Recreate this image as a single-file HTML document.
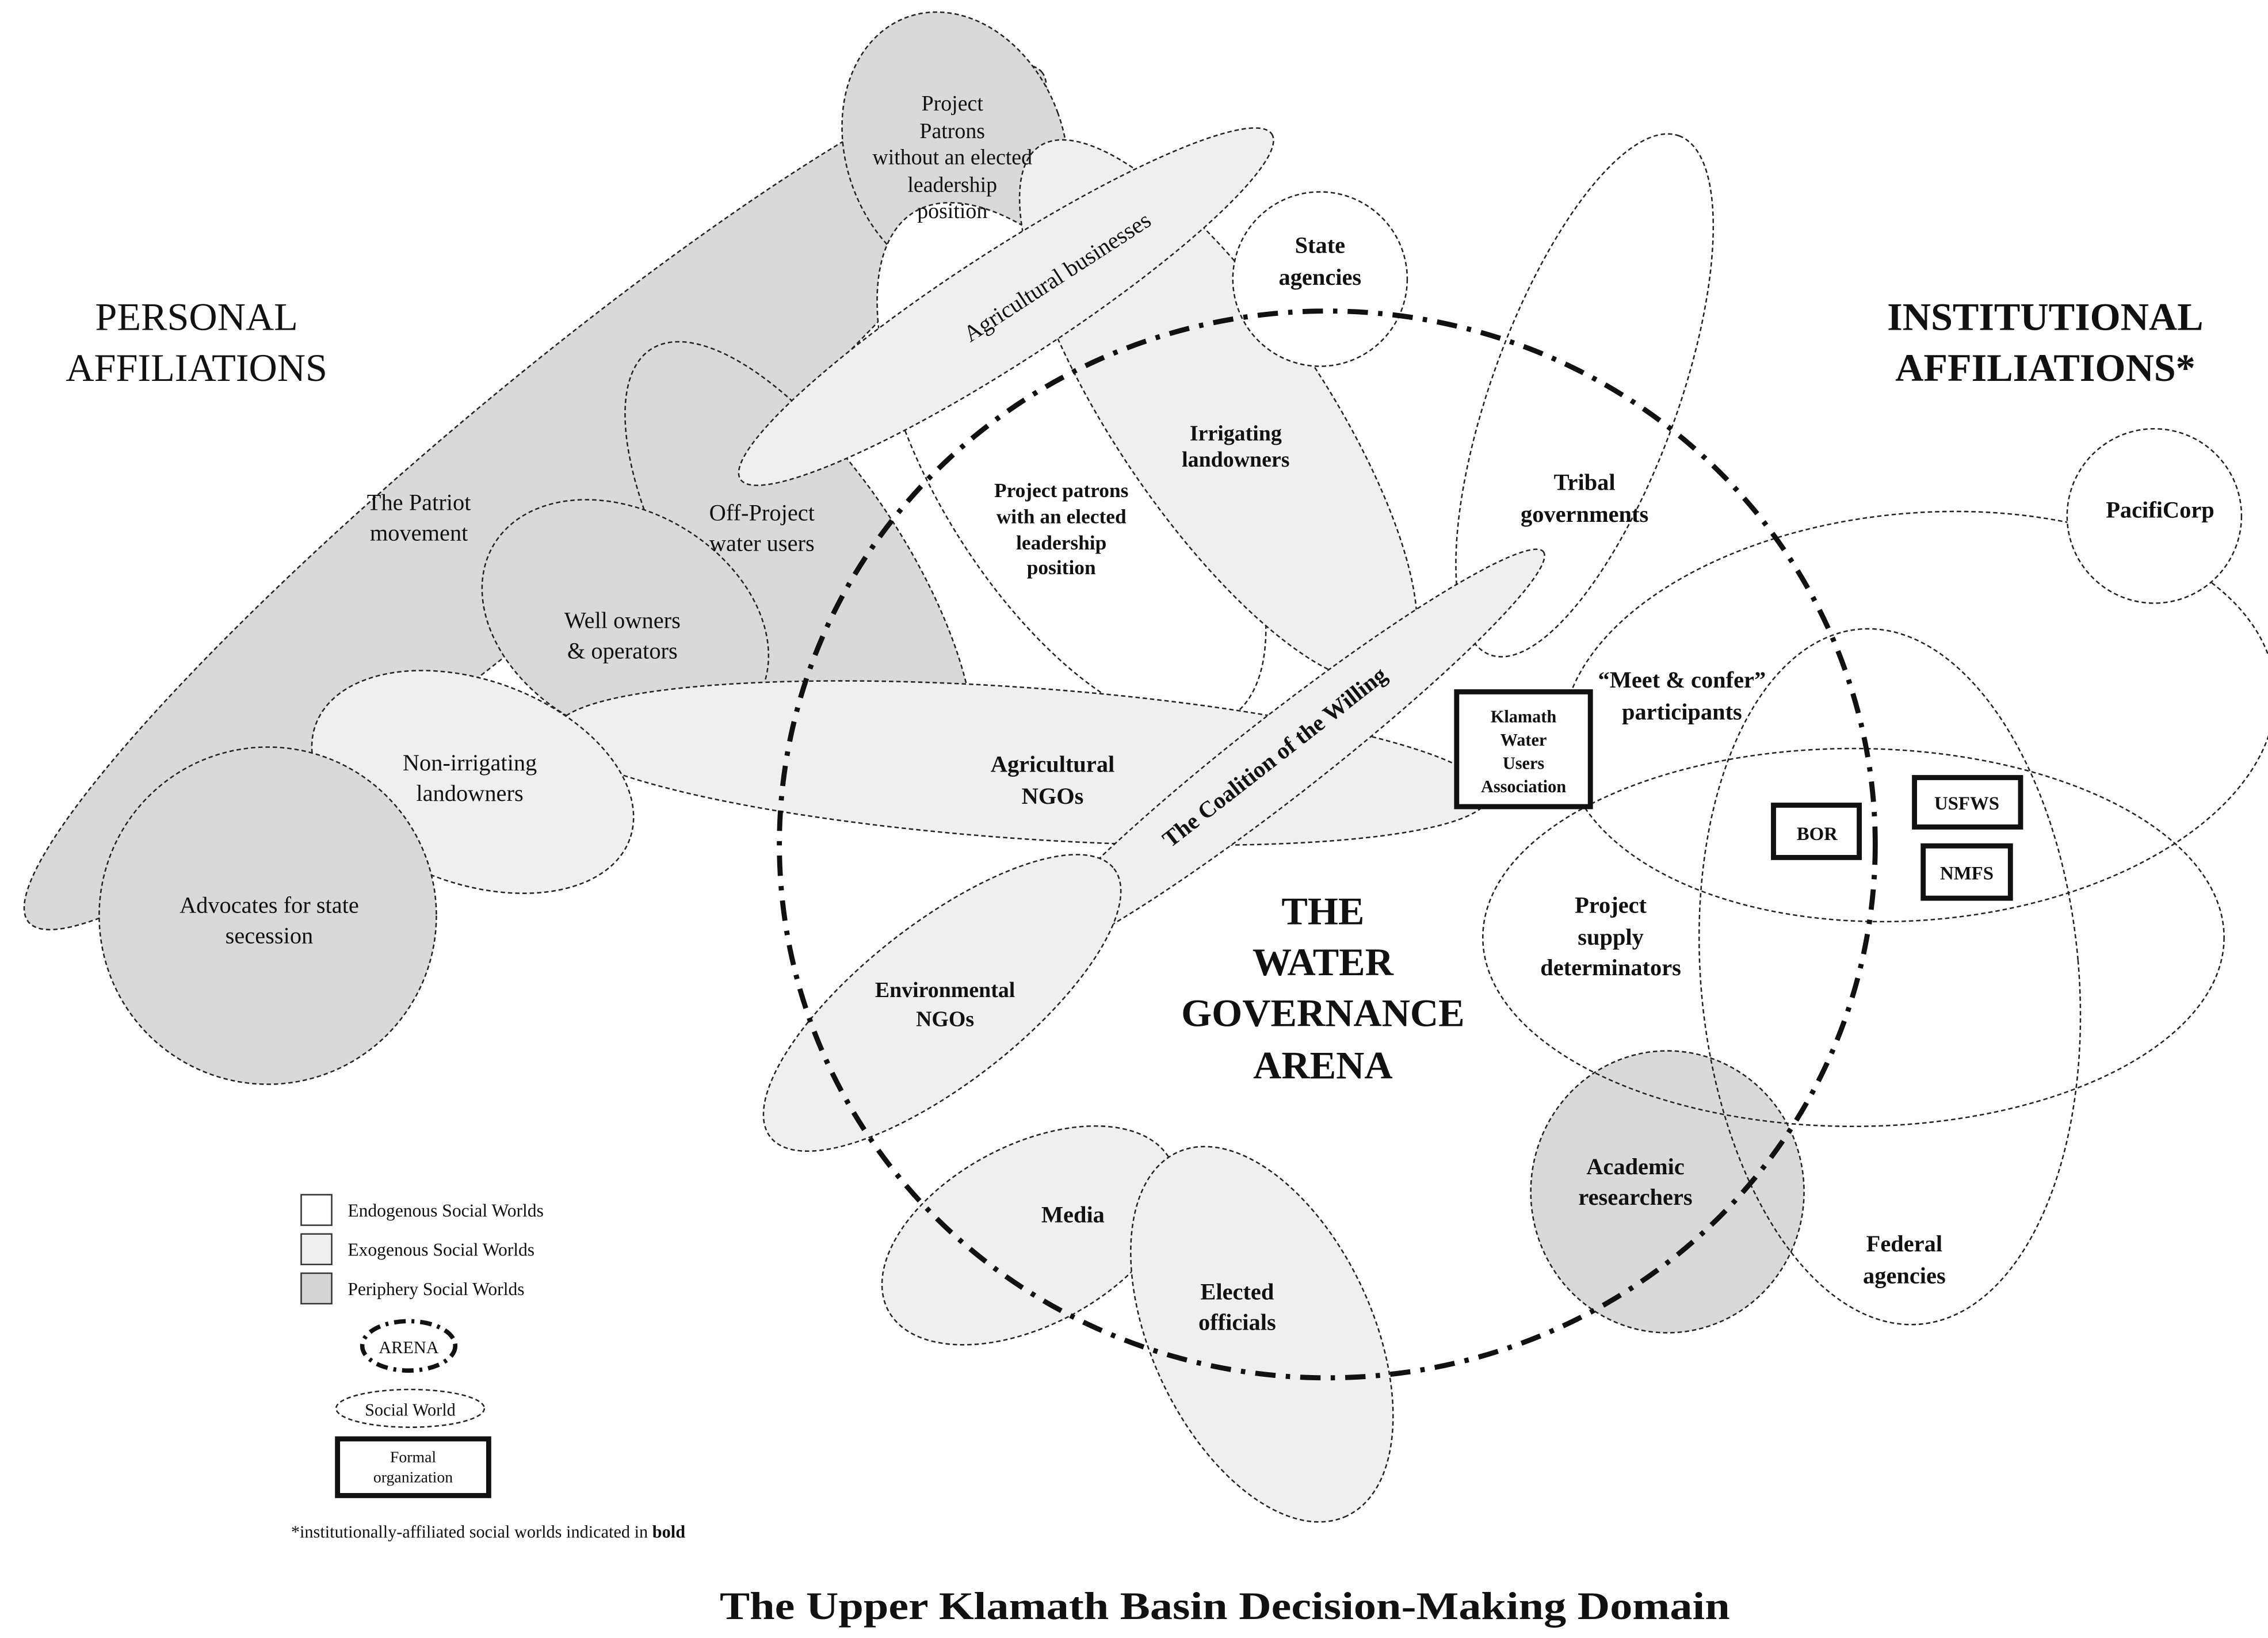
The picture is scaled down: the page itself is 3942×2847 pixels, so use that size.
<!DOCTYPE html>
<html><head><meta charset="utf-8"><style>
html,body{margin:0;padding:0;background:#fff}
svg{display:block}
text{font-family:"Liberation Serif",serif;fill:#111}
.g{fill:#d9d9d9;stroke:#222;stroke-width:1;stroke-dasharray:3 2}
.l{fill:#efefef;stroke:#222;stroke-width:1;stroke-dasharray:3 2}
.w{fill:none;stroke:#222;stroke-width:1;stroke-dasharray:3 2}
.wf{fill:#fff;stroke:#222;stroke-width:1;stroke-dasharray:3 2}
.t{font-size:16px;text-anchor:middle}
.b{font-size:16px;text-anchor:middle;font-weight:bold}
.box{fill:#fff;stroke:#111;stroke-width:3.5}
</style></head><body>
<svg width="3942" height="2847" viewBox="0 0 1560 1127" xmlns="http://www.w3.org/2000/svg">
<rect width="1560" height="1127" fill="#fff"/>
<ellipse class="g" cx="368" cy="342" rx="455" ry="72" transform="rotate(-40 368 342)"/>
<ellipse class="g" cx="657" cy="103" rx="75" ry="97" transform="rotate(-20 657 103)"/>
<ellipse class="wf" cx="737" cy="320" rx="205" ry="92" transform="rotate(58 737 320)"/>
<ellipse class="l" cx="838" cy="283" rx="220" ry="72" transform="rotate(56 838 283)"/>
<ellipse class="g" cx="550" cy="398" rx="188" ry="75" transform="rotate(57 550 398)"/>
<ellipse class="g" cx="430" cy="428" rx="105" ry="76" transform="rotate(30 430 428)"/>
<ellipse class="l" cx="703" cy="525" rx="322" ry="52" transform="rotate(4 703 525)"/>
<ellipse class="l" cx="325" cy="538" rx="115" ry="70" transform="rotate(20 325 538)"/>
<circle class="g" cx="184" cy="630" r="116"/>
<ellipse class="l" cx="692" cy="211" rx="218" ry="38" transform="rotate(-33 692 211)"/>
<circle class="wf" cx="908" cy="192" r="60"/>
<ellipse class="w" cx="1090" cy="272" rx="190" ry="64" transform="rotate(-70 1090 272)"/>
<ellipse class="l" cx="882" cy="520" rx="228" ry="28" transform="rotate(-38 882 520)"/>
<ellipse class="l" cx="648" cy="690" rx="150" ry="55" transform="rotate(-38 648 690)"/>
<ellipse class="l" cx="708" cy="850" rx="110" ry="62" transform="rotate(-28 708 850)"/>
<ellipse class="l" cx="868" cy="918" rx="138" ry="76" transform="rotate(65 868 918)"/>
<ellipse class="g" cx="1147" cy="820" rx="94" ry="97"/>
<ellipse class="w" cx="1320" cy="493" rx="246" ry="140" transform="rotate(-5 1320 493)"/>
<ellipse class="w" cx="1275" cy="645" rx="255" ry="130"/>
<ellipse class="w" cx="1300" cy="672" rx="130" ry="240" transform="rotate(-5 1300 672)"/>
<circle class="wf" cx="1482" cy="355" r="60"/>
<ellipse cx="913" cy="581" rx="377" ry="367" fill="none" stroke="#111" stroke-width="3.5" stroke-dasharray="14 7 3 7"/>
<rect class="box" x="1002" y="476" width="92" height="79"/>
<rect class="box" x="1220" y="554" width="59" height="36"/>
<rect class="box" x="1317" y="535" width="73" height="34"/>
<rect class="box" x="1323" y="582" width="60" height="36"/>
<text class="b" x="1048" y="497" style="font-size:12px">Klamath</text>
<text class="b" x="1048" y="513" style="font-size:12px">Water</text>
<text class="b" x="1048" y="529" style="font-size:12px">Users</text>
<text class="b" x="1048" y="545" style="font-size:12px">Association</text>
<text class="b" x="1250" y="578" style="font-size:13px">BOR</text>
<text class="b" x="1353" y="557" style="font-size:13px">USFWS</text>
<text class="b" x="1353" y="605" style="font-size:13px">NMFS</text>
<text x="135" y="227" style="font-size:27px;text-anchor:middle">PERSONAL</text>
<text x="135" y="262" style="font-size:27px;text-anchor:middle">AFFILIATIONS</text>
<text x="1407" y="227" style="font-size:27px;text-anchor:middle;font-weight:bold">INSTITUTIONAL</text>
<text x="1407" y="262" style="font-size:27px;text-anchor:middle;font-weight:bold">AFFILIATIONS*</text>
<text x="910" y="636" style="font-size:27px;text-anchor:middle;font-weight:bold">THE</text>
<text x="910" y="671" style="font-size:27px;text-anchor:middle;font-weight:bold">WATER</text>
<text x="910" y="706" style="font-size:27px;text-anchor:middle;font-weight:bold">GOVERNANCE</text>
<text x="910" y="742" style="font-size:27px;text-anchor:middle;font-weight:bold">ARENA</text>
<text x="495" y="1114" textLength="695" lengthAdjust="spacingAndGlyphs" style="font-size:27px;font-weight:bold">The Upper Klamath Basin Decision-Making Domain</text>
<text class="t" x="655" y="76" style="font-size:15px">Project</text>
<text class="t" x="655" y="95" style="font-size:15px">Patrons</text>
<text class="t" x="655" y="113" style="font-size:15px">without an elected</text>
<text class="t" x="655" y="132" style="font-size:15px">leadership</text>
<text class="t" x="655" y="150" style="font-size:15px">position</text>
<text class="t" x="730" y="195" style="font-size:16px" transform="rotate(-33 730 195)">Agricultural businesses</text>
<text class="b" x="908" y="174">State</text>
<text class="b" x="908" y="196">agencies</text>
<text class="b" x="850" y="303" style="font-size:15px">Irrigating</text>
<text class="b" x="850" y="321" style="font-size:15px">landowners</text>
<text class="b" x="730" y="342" style="font-size:14px">Project patrons</text>
<text class="b" x="730" y="360" style="font-size:14px">with an elected</text>
<text class="b" x="730" y="378" style="font-size:14px">leadership</text>
<text class="b" x="730" y="395" style="font-size:14px">position</text>
<text class="b" x="1090" y="337">Tribal</text>
<text class="b" x="1090" y="359">governments</text>
<text class="b" x="1486" y="356">PacifiCorp</text>
<text class="t" x="288" y="351">The Patriot</text>
<text class="t" x="288" y="372">movement</text>
<text class="t" x="524" y="358">Off-Project</text>
<text class="t" x="524" y="379">water users</text>
<text class="t" x="428" y="432">Well owners</text>
<text class="t" x="428" y="453">&amp; operators</text>
<text class="t" x="323" y="530">Non-irrigating</text>
<text class="t" x="323" y="551">landowners</text>
<text class="t" x="185" y="628">Advocates for state</text>
<text class="t" x="185" y="649">secession</text>
<text class="b" x="724" y="531">Agricultural</text>
<text class="b" x="724" y="553">NGOs</text>
<text class="b" x="880" y="525" transform="rotate(-38 880 525)">The Coalition of the Willing</text>
<text class="b" x="1157" y="473">“Meet &amp; confer”</text>
<text class="b" x="1157" y="495">participants</text>
<text class="b" x="1108" y="628">Project</text>
<text class="b" x="1108" y="650">supply</text>
<text class="b" x="1108" y="671">determinators</text>
<text class="b" x="650" y="686" style="font-size:15px">Environmental</text>
<text class="b" x="650" y="706" style="font-size:15px">NGOs</text>
<text class="b" x="738" y="841">Media</text>
<text class="b" x="851" y="894">Elected</text>
<text class="b" x="851" y="915">officials</text>
<text class="b" x="1125" y="808">Academic</text>
<text class="b" x="1125" y="829">researchers</text>
<text class="b" x="1310" y="861">Federal</text>
<text class="b" x="1310" y="883">agencies</text>
<rect x="207" y="822" width="21" height="21" fill="#fff" stroke="#333"/>
<rect x="207" y="849" width="21" height="21" fill="#efefef" stroke="#333"/>
<rect x="207" y="876" width="21" height="21" fill="#d3d3d3" stroke="#333"/>
<text x="239" y="837" style="font-size:12.5px">Endogenous Social Worlds</text>
<text x="239" y="864" style="font-size:12.5px">Exogenous Social Worlds</text>
<text x="239" y="891" style="font-size:12.5px">Periphery Social Worlds</text>
<ellipse cx="281" cy="926" rx="32" ry="17" fill="none" stroke="#111" stroke-width="3" stroke-dasharray="8 4 2 4"/>
<text x="281" y="931" style="font-size:12px;text-anchor:middle">ARENA</text>
<ellipse cx="282" cy="969" rx="51" ry="13" fill="none" stroke="#222" stroke-width="1" stroke-dasharray="3 2"/>
<text x="282" y="974" style="font-size:12px;text-anchor:middle">Social World</text>
<rect x="232" y="990" width="104" height="39" fill="#fff" stroke="#111" stroke-width="3.5"/>
<text x="284" y="1006" style="font-size:11px;text-anchor:middle">Formal</text>
<text x="284" y="1020" style="font-size:11px;text-anchor:middle">organization</text>
<text x="200" y="1058" style="font-size:12px">*institutionally-affiliated social worlds indicated in <tspan font-weight="bold">bold</tspan></text>
</svg>
</body></html>
